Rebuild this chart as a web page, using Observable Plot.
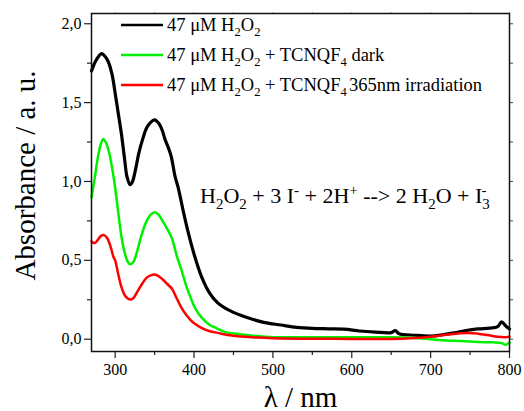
<!DOCTYPE html>
<html>
<head>
<meta charset="utf-8">
<script src="https://cdn.jsdelivr.net/npm/d3@7"></script>
<script src="https://cdn.jsdelivr.net/npm/@observablehq/plot@0.6"></script>
<style>
  html, body { margin: 0; padding: 0; background: white; }
  svg { display: block; }
  svg, svg text { font-family: "Liberation Serif", "Times New Roman", serif !important; }
</style>
</head>
<body>
<div id="chart"></div>
<script>
// ---- data ----
const blackLambda = [270,273,276,280,283,286,289,292,296,300,304,308,312,315,319,322,326,330,335,340,345,350,355,360,363,367,371,376,380,386,392,400,410,420,430,440,450,460,475,490,510,530,550,570,590,610,630,650,655,660,680,700,715,730,745,760,775,785,790,795,800];
const blackAbs    = [1.70,1.74,1.77,1.80,1.81,1.80,1.78,1.75,1.68,1.56,1.43,1.30,1.14,1.03,0.98,1.00,1.08,1.18,1.27,1.34,1.375,1.39,1.37,1.32,1.27,1.22,1.16,1.03,0.96,0.82,0.69,0.54,0.39,0.29,0.23,0.195,0.17,0.15,0.125,0.105,0.09,0.075,0.068,0.066,0.064,0.052,0.045,0.042,0.055,0.035,0.025,0.02,0.028,0.04,0.055,0.065,0.07,0.08,0.11,0.085,0.065];

const greenLambda = [270,274,278,282,285,288,292,296,300,304,308,312,316,319,323,328,334,340,345,350,355,360,366,372,378,384,390,396,401,410,420,426,440,456,480,500,550,600,650,680,700,720,740,760,780,790,795,800];
const greenAbs    = [0.90,1.02,1.15,1.24,1.27,1.25,1.19,1.09,0.96,0.80,0.65,0.55,0.49,0.475,0.49,0.56,0.67,0.75,0.79,0.805,0.79,0.75,0.70,0.64,0.53,0.44,0.34,0.26,0.20,0.135,0.09,0.076,0.045,0.034,0.02,0.013,0.012,0.012,0.012,0.008,0.0,-0.008,-0.012,-0.018,-0.02,-0.025,-0.035,-0.02];

const redLambda = [270,274,278,282,286,290,294,298,300,304,308,312,316,319,323,328,334,340,345,350,355,360,366,372,378,384,390,396,401,410,420,430,445,460,480,500,550,600,650,670,690,705,720,735,748,760,772,785,795,800];
const redAbs    = [0.62,0.61,0.63,0.655,0.66,0.64,0.59,0.52,0.50,0.41,0.33,0.28,0.258,0.252,0.26,0.30,0.35,0.39,0.405,0.41,0.40,0.38,0.35,0.32,0.26,0.20,0.155,0.12,0.098,0.07,0.05,0.04,0.025,0.017,0.01,0.006,0.003,0.002,0.002,0.004,0.01,0.018,0.028,0.036,0.04,0.035,0.026,0.015,0.012,0.015];

const xMajorTicks = [300,400,500,600,700,800];
const xMinorTicks = [350,450,550,650,750];
const yMajorTicks = [0,0.5,1.0,1.5,2.0];
const yMinorTicks = [0.25,0.75,1.25,1.75];

const seriesNames = ["black","green","red"];
const seriesColors = ["#000000","#00f000","#ff0000"];
const seriesWidths = [3.2,2.5,2.5];

const toRows = (ls, as) => ls.map((l, i) => ({l, a: as[i]}));
const series = [toRows(blackLambda, blackAbs), toRows(greenLambda, greenAbs), toRows(redLambda, redAbs)];

const FONT = "Liberation Serif, Times New Roman, serif";
const fmt = d => d.toFixed(1).replace(".", ",");

const chart = Plot.plot({
  width: 524, height: 411,
  marginLeft: 91, marginRight: 15, marginTop: 13, marginBottom: 60,
  x: {domain: [270, 800]},
  y: {domain: [-0.078, 2.065]},
  style: {fontFamily: FONT, fontSize: "16px", color: "black", background: "white"},
  marks: [
    ...series.map((rows, i) => Plot.line(rows, {x: "l", y: "a", stroke: seriesColors[i], strokeWidth: seriesWidths[i], curve: "catmull-rom"})),
    Plot.axisX({ticks: xMajorTicks, tickSize: 7, tickPadding: 5, tickFormat: d => String(d), fontSize: 16, label: null, stroke: "#222", strokeWidth: 1.2}),
    Plot.axisX({ticks: xMinorTicks, tickSize: 4, tickFormat: () => "", label: null, stroke: "#222", strokeWidth: 1.2}),
    Plot.axisX({anchor: "top", ticks: xMajorTicks.concat(xMinorTicks), tickSize: 2, tickFormat: () => "", label: null, stroke: "#aaa"}),
    Plot.axisY({ticks: yMajorTicks, tickSize: 7, tickPadding: 3, tickFormat: fmt, fontSize: 16, label: null, stroke: "#222", strokeWidth: 1.2}),
    Plot.axisY({ticks: yMinorTicks, tickSize: 4, tickFormat: () => "", label: null, stroke: "#222", strokeWidth: 1.2}),
    Plot.axisY({anchor: "right", ticks: yMajorTicks.concat(yMinorTicks), tickSize: 3, tickFormat: () => "", label: null, stroke: "#444"}),
    Plot.frame({stroke: "#111", strokeWidth: 1.5}),
    Plot.text(["Absorbance / a. u."], {frameAnchor: "left", dx: -66, dy: -7, rotate: -90, textAnchor: "middle", text: d => d, fontSize: 29}),
    Plot.text(["λ / nm"], {frameAnchor: "bottom", dy: 55, text: d => d, fontSize: 29, lineAnchor: "bottom"})
  ]
});

document.getElementById("chart").appendChild(chart);

// ---- legend and equation (rich text with sub/superscripts) ----
const svg = d3.select(chart);
function rich(x, y, size, segs) {
  const t = svg.append("text").attr("x", x).attr("y", y).attr("text-anchor", "start")
    .attr("font-size", size).attr("fill", "black");
  let off = 0;
  segs.forEach(([s, m, dxEm]) => {
    let target = 0, fs = size;
    if (m === "sub") { target = 0.28 * size; fs = 0.68 * size; }
    if (m === "sup") { target = -0.38 * size; fs = 0.68 * size; }
    const ts = t.append("tspan").attr("font-size", fs).attr("dy", target - off).text(s);
    if (dxEm) ts.attr("dx", dxEm * fs);
    off = target;
  });
  return t;
}
const legendLabels = [
  [["47 μM H"],["2","sub"],["O"],["2","sub"]],
  [["47 μM H"],["2","sub"],["O"],["2","sub"],[" + TCNQF"],["4","sub"],[" dark"]],
  [["47 μM H"],["2","sub"],["O"],["2","sub"],[" + TCNQF"],["4","sub"],["365nm irradiation", null, 0.12]]
];
const legendY = [25, 55, 85];
legendLabels.forEach((segs, i) => {
  svg.append("line").attr("x1", 121).attr("x2", 163).attr("y1", legendY[i]).attr("y2", legendY[i])
    .attr("stroke", seriesColors[i]).attr("stroke-width", 2.5);
  rich(167, legendY[i] + 6, 18.5, segs);
});
rich(200, 203, 22, [["H"],["2","sub"],["O"],["2","sub"],[" + 3 I"],["-","sup"],[" + 2H"],["+","sup"],[" --> 2 H"],["2","sub"],["O + I"],["3","sub"],["-","sup",-0.55]]);
</script>
</body>
</html>
